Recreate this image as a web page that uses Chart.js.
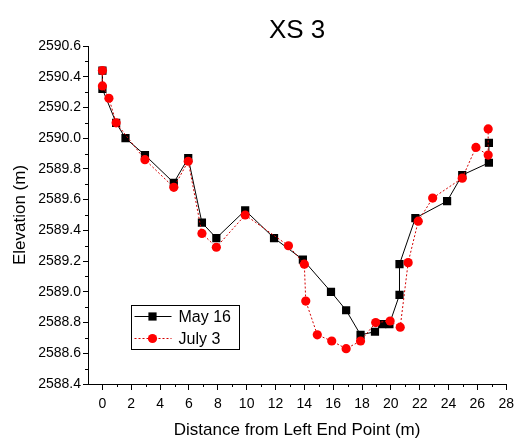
<!DOCTYPE html>
<html>
<head>
<meta charset="utf-8">
<script src="https://cdn.jsdelivr.net/npm/chart.js@4/dist/chart.umd.min.js"></script>
<style>
  html,body{margin:0;padding:0;background:#fff;}
  #wrap{width:520px;height:442px;position:relative;}
</style>
</head>
<body>
<div id="wrap"><canvas id="chart-xs3" width="520" height="442"></canvas></div>
<script>
// ===== Data =====
const chartTitle = 'XS 3';
const xTitle = 'Distance from Left End Point (m)';
const yTitle = 'Elevation (m)';
const seriesNames = ['May 16', 'July 3'];

const mayX = [0, 0, 0.95, 1.6, 2.95, 4.95, 5.95, 6.9, 7.9, 9.9, 11.9, 13.9, 15.85, 16.9, 17.9, 18.9, 19.4, 19.9, 20.6, 20.6, 21.7, 23.9, 24.95, 26.8, 26.8];
const mayY = [2590.44, 2590.32, 2590.10, 2590.00, 2589.89, 2589.71, 2589.87, 2589.45, 2589.35, 2589.53, 2589.35, 2589.21, 2589.00, 2588.88, 2588.72, 2588.74, 2588.79, 2588.79, 2588.98, 2589.18, 2589.48, 2589.59, 2589.76, 2589.84, 2589.97];

const julyX = [0, 0, 0.45, 0.95, 2.95, 4.95, 5.95, 6.9, 7.9, 9.9, 12.9, 14.0, 14.1, 14.9, 15.9, 16.9, 17.9, 18.95, 19.95, 20.65, 21.2, 21.9, 22.9, 24.95, 25.9, 26.75, 26.75];
const julyY = [2590.44, 2590.34, 2590.26, 2590.10, 2589.86, 2589.68, 2589.85, 2589.38, 2589.29, 2589.50, 2589.30, 2589.18, 2588.94, 2588.72, 2588.68, 2588.63, 2588.68, 2588.80, 2588.81, 2588.77, 2589.19, 2589.46, 2589.61, 2589.74, 2589.94, 2589.89, 2590.06];

// axis ranges / ticks
const xMin = -1, xMax = 28, xStep = 1;       // labels every 2
const yMin = 2588.4, yMax = 2590.6, yStep = 0.1; // labels every 0.2

// ===== Helpers =====
const FONT = "'Liberation Sans', Arial, sans-serif";
const pts = (xs, ys)=>xs.map((x,i)=>({x, y:ys[i]}));
const isMajorX = v=>Math.round(v)>=0 && Math.round(v)%2===0;
const isMajorY = v=>Math.round(v*10)%2===0;

// title + minor ticks + inner legend
const decor = {
  id:'decor',
  afterDraw(chart){
    const {ctx, chartArea:a, scales:{x:xs, y:ys}} = chart;
    ctx.save();
    ctx.strokeStyle='#000'; ctx.lineWidth=1;
    // minor ticks
    xs.ticks.forEach(t=>{
      if (isMajorX(t.value) || t.value<0) return;
      const px=Math.round(xs.getPixelForValue(t.value))+0.5;
      ctx.beginPath(); ctx.moveTo(px,a.bottom); ctx.lineTo(px,a.bottom+3); ctx.stroke();
    });
    ys.ticks.forEach(t=>{
      if (isMajorY(t.value)) return;
      const py=Math.round(ys.getPixelForValue(t.value))+0.5;
      ctx.beginPath(); ctx.moveTo(a.left,py); ctx.lineTo(a.left-3,py); ctx.stroke();
    });
    // title
    ctx.fillStyle='#000'; ctx.font=`26px ${FONT}`;
    ctx.textAlign='center'; ctx.textBaseline='middle';
    ctx.fillText(chartTitle,(a.left+a.right)/2,31);
    // legend box
    const bx=131.5, by=305.5, bw=108, bh=44;
    ctx.strokeRect(bx,by,bw,bh);
    ctx.font=`16px ${FONT}`; ctx.textAlign='left';
    chart.data.datasets.forEach((ds,i)=>{
      const cy=by+11+i*22;
      ctx.save();
      ctx.strokeStyle=ds.borderColor; ctx.lineWidth=ds.borderWidth;
      ctx.setLineDash(ds.borderDash||[]);
      ctx.beginPath(); ctx.moveTo(bx+3,cy); ctx.lineTo(bx+40,cy); ctx.stroke();
      ctx.restore();
      ctx.fillStyle=ds.pointBackgroundColor;
      ctx.beginPath();
      if (ds.pointStyle==='rect'){
        const s=Math.SQRT1_2*ds.pointRadius; ctx.rect(bx+21-s,cy-s,2*s,2*s);
      } else {
        ctx.arc(bx+21,cy,ds.pointRadius,0,Math.PI*2);
      }
      ctx.fill();
      ctx.fillStyle='#000';
      ctx.fillText(ds.label,bx+47,cy+1);
    });
    ctx.restore();
  }
};

// ===== Chart =====
const el = document.getElementById('chart-xs3');
new Chart(el,{
  type:'scatter',
  data:{
    datasets:[
      {
        label:seriesNames[0], data:pts(mayX,mayY), showLine:true,
        borderColor:'#000', borderWidth:1, backgroundColor:'#000',
        pointStyle:'rect', pointRadius:5.8, pointBackgroundColor:'#000', pointBorderWidth:0,
        order:1
      },
      {
        label:seriesNames[1], data:pts(julyX,julyY), showLine:true,
        borderColor:'#d40000', borderWidth:1, borderDash:[2,2], backgroundColor:'#ff0000',
        pointStyle:'circle', pointRadius:4.6, pointBackgroundColor:'#ff0000', pointBorderWidth:0,
        order:0
      }
    ]
  },
  options:{
    responsive:false, animation:false, devicePixelRatio:1,
    layout:{padding:{top:46,right:12,left:0,bottom:0}},
    plugins:{legend:{display:false}, tooltip:{enabled:false}},
    scales:{
      x:{
        type:'linear', min:xMin, max:xMax,
        afterFit:s=>{ s.height=58; },
        border:{display:true,color:'#000',width:1},
        grid:{drawOnChartArea:false, drawTicks:true, tickLength:6,
          tickColor:c=>isMajorX(c.tick.value)?'#000':'rgba(0,0,0,0)'},
        ticks:{stepSize:xStep, autoSkip:false, maxRotation:0, padding:6, color:'#000',
          font:{family:FONT,size:14},
          callback:v=>isMajorX(v)?String(Math.round(v)):''},
        title:{display:true, text:xTitle, color:'#000', font:{family:FONT,size:17}, padding:{bottom:1}}
      },
      y:{
        type:'linear', min:yMin, max:yMax,
        afterFit:s=>{ s.width=88; },
        border:{display:true,color:'#000',width:1},
        grid:{drawOnChartArea:false, drawTicks:true, tickLength:5,
          tickColor:c=>isMajorY(c.tick.value)?'#000':'rgba(0,0,0,0)'},
        ticks:{stepSize:yStep, autoSkip:false, padding:2, color:'#000',
          font:{family:FONT,size:14},
          callback:v=>isMajorY(v)?v.toFixed(1):''},
        title:{display:true, text:yTitle, color:'#000', font:{family:FONT,size:17}, padding:{top:10}}
      }
    }
  },
  plugins:[decor]
});
</script>
</body>
</html>
